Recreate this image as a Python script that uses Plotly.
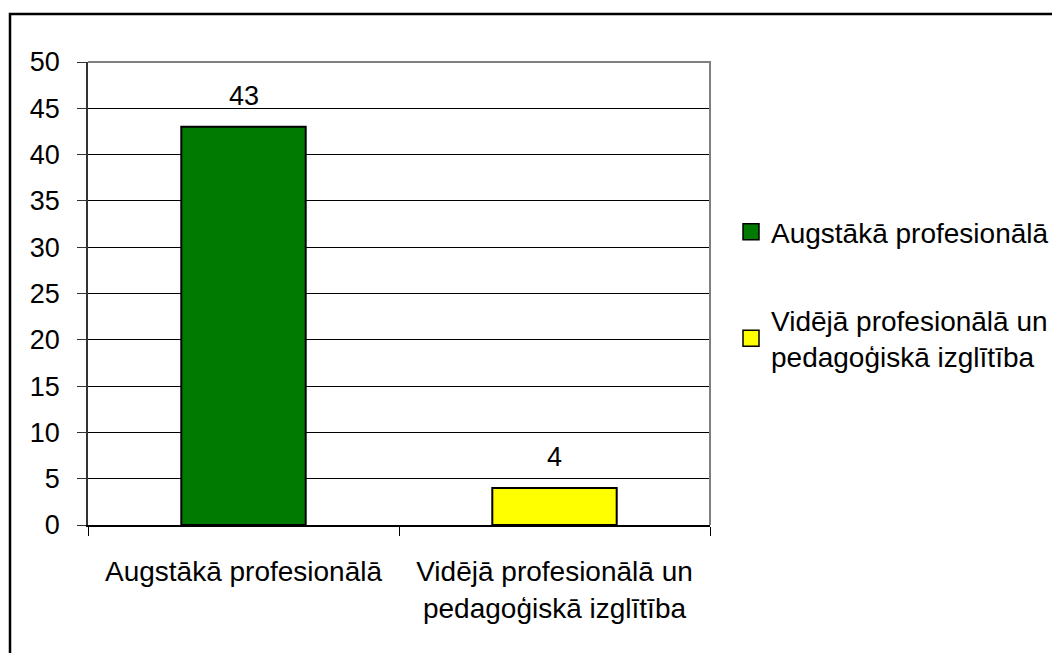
import plotly.graph_objects as go

categories = ["Augstākā profesionālā", "Vidējā profesionālā un<br>pedagoģiskā izglītība"]
series_names = ["Augstākā profesionālā", "Vidējā profesionālā un<br>pedagoģiskā izglītība"]
values = [43, 4]
colors = ["#007a00", "#ffff00"]
y_ticks = [0, 5, 10, 15, 20, 25, 30, 35, 40, 45, 50]

FONT = "Liberation Sans, Arial, sans-serif"
FS = 28
TFS = 27
LFS = 28
W, H = 1052, 653
L, R, T, B = 88, 342, 62, 128
PW, PH = W - L - R, H - T - B


def px(x):
    return (x - L) / PW


def py(y):
    return (H - B - y) / PH


fig = go.Figure()
for i, (cat, name, val, col) in enumerate(zip(categories, series_names, values, colors)):
    fig.add_trace(go.Bar(
        x=[cat], y=[val], name=name, width=0.4,
        marker=dict(color=col, line=dict(color="#000000", width=2)),
        legendgroup=f"g{i}", showlegend=False, hoverinfo="skip",
    ))
    # legend entry with a larger square symbol
    fig.add_trace(go.Scatter(
        x=[None], y=[None], name=name, mode="markers",
        marker=dict(symbol="square", size=16, color=col,
                    line=dict(color="#000000", width=1.5)),
        legendgroup=f"g{i}", showlegend=True, hoverinfo="skip",
    ))
    fig.add_annotation(x=cat, y=val, text=str(val), showarrow=False,
                       yanchor="bottom", yshift=14,
                       font=dict(family=FONT, size=TFS, color="#000000"))

# plot-area frame (top and right in gray)
fig.add_shape(type="path", xref="paper", yref="paper",
              path="M 0 1 L 1 1 L 1 0", line=dict(color="#808080", width=2), layer="above")
# outer chart border
fig.add_shape(type="rect", xref="paper", yref="paper",
              x0=px(10), y0=py(670), x1=px(1070), y1=py(14),
              line=dict(color="#000000", width=2.5), layer="above")

fig.update_layout(
    width=W, height=H,
    margin=dict(l=L, r=R, t=T, b=B, autoexpand=False),
    paper_bgcolor="#ffffff", plot_bgcolor="#ffffff",
    barmode="overlay",
    font=dict(family=FONT, size=FS, color="#000000"),
    showlegend=True,
    legend=dict(x=px(731), y=py(207), xanchor="left", yanchor="top",
                font=dict(family=FONT, size=LFS, color="#000000"),
                tracegroupgap=49, bgcolor="rgba(0,0,0,0)",
                itemsizing="trace"),
    xaxis=dict(
        categoryorder="array", categoryarray=categories,
        showline=True, linecolor="#000000", linewidth=1.5,
        ticks="outside", ticklen=9, tickcolor="#000000", tickwidth=1,
        tickson="boundaries", showgrid=False, ticklabelstandoff=21,
        tickfont=dict(family=FONT, size=FS, color="#000000"),
        fixedrange=True,
    ),
    yaxis=dict(
        range=[0, 50], tickvals=y_ticks, ticktext=[str(v) for v in y_ticks],
        showline=True, linecolor="#333333", linewidth=1.5,
        ticks="outside", ticklen=9, tickcolor="#333333", tickwidth=1,
        showgrid=True, gridcolor="#000000", gridwidth=1,
        zeroline=False, ticklabelstandoff=12,
        tickfont=dict(family=FONT, size=TFS, color="#000000"),
        fixedrange=True,
    ),
)

fig.write_html("out.html", config={"displayModeBar": False},
               post_script="document.body.style.margin='0';")
